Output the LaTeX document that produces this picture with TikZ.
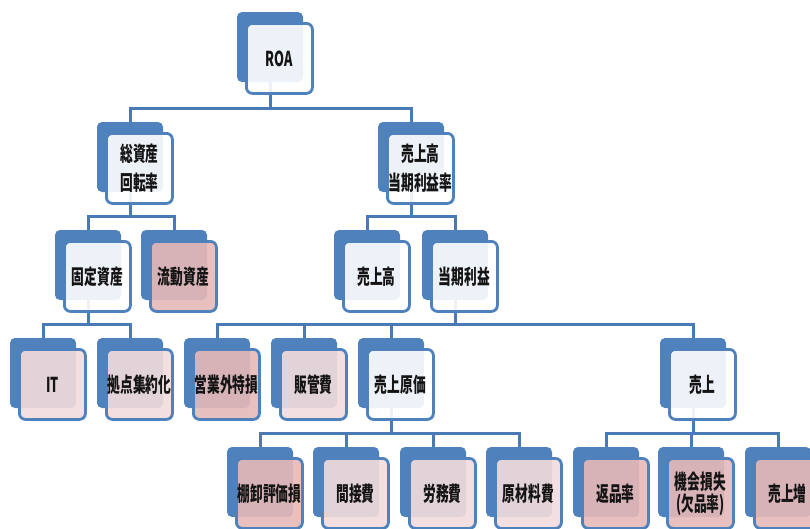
\documentclass[tikz,border=0pt]{standalone}
\usepackage{fontspec}
\newfontfamily\jp{Noto Sans CJK JP}[FakeStretch=0.62]
\pgfdeclarelayer{bg}
\pgfsetlayers{bg,main}
\definecolor{acc}{HTML}{4F81BD}
\definecolor{connc}{HTML}{4A7AB5}
\definecolor{wfill}{HTML}{FFFFFF}
\definecolor{lpink}{HTML}{F2DCDB}
\definecolor{dpink}{HTML}{E6B9B8}
\definecolor{txt}{HTML}{141414}
\tikzset{
  backbox/.style={anchor=north west, fill=acc, rounded corners=5pt,
    minimum width=66pt, minimum height=70pt, inner sep=0pt, outer sep=0pt},
  frontbox/.style={anchor=north west, draw=acc, line width=2.8pt,
    fill opacity=0.9, text opacity=1, draw opacity=1, rounded corners=6pt,
    minimum width=66pt, minimum height=70pt, inner sep=0pt, align=center,
    font=\jp\bfseries\fontsize{20.5}{22}\selectfont, text=txt},
  conn/.style={draw=connc, line width=3pt},
  twoline/.style={font=\jp\bfseries\fontsize{20.5}{29}\selectfont},
}
\newcommand\onebox[6][]{%
  \node[backbox] (#2b) at (#3,#4) {};
  \node[frontbox, fill=#5, #1] (#2) at ([xshift=8pt,yshift=-10pt]#2b.north west) {#6};
}
\newcommand\linkto[2]{\draw[conn] (#1b.center) |- ([yshift=14pt]#2b.north) -- (#2b.north);}
\begin{document}
\begin{tikzpicture}[x=1pt,y=-1pt]
\useasboundingbox (0,0) rectangle (810,528);
\clip (0,0) rectangle (810,528);
% level 0
\onebox{roa}{237}{12}{wfill}{ROA}
% level 1
\onebox[twoline]{sou}{97}{122}{wfill}{総資産\\回転率}
\onebox[twoline]{urr}{378}{122}{wfill}{売上高\\当期利益率}
% level 2
\onebox{kotei}{55}{230}{wfill}{固定資産}
\onebox{ryudo}{141}{230}{dpink}{流動資産}
\onebox{uriage}{334}{230}{wfill}{売上高}
\onebox{toki}{422}{230}{wfill}{当期利益}
% level 3
\onebox{it}{10}{338}{lpink}{IT}
\onebox{kyoten}{97}{338}{lpink}{拠点集約化}
\onebox{eigyo}{184}{338}{dpink}{営業外特損}
\onebox{hankan}{271}{338}{lpink}{販管費}
\onebox{genka}{358}{338}{wfill}{売上原価}
\onebox{uri}{660}{338}{wfill}{売上}
% level 4
\onebox{tana}{227}{447}{dpink}{棚卸評価損}
\onebox{kansetsu}{313}{447}{lpink}{間接費}
\onebox{romu}{400}{447}{lpink}{労務費}
\onebox{genzai}{486}{447}{lpink}{原材料費}
\onebox{henpin}{573}{447}{dpink}{返品率}
\onebox{kikai}{658}{447}{dpink}{機会損失\\(欠品率)}
\onebox{zou}{745}{447}{dpink}{売上増}
\begin{pgfonlayer}{bg}
\linkto{roa}{sou}
\linkto{roa}{urr}
\linkto{sou}{kotei}
\linkto{sou}{ryudo}
\linkto{urr}{uriage}
\linkto{urr}{toki}
\linkto{kotei}{it}
\linkto{kotei}{kyoten}
\linkto{toki}{eigyo}
\linkto{toki}{hankan}
\linkto{toki}{genka}
\linkto{toki}{uri}
\linkto{genka}{tana}
\linkto{genka}{kansetsu}
\linkto{genka}{romu}
\linkto{genka}{genzai}
\linkto{uri}{henpin}
\linkto{uri}{kikai}
\linkto{uri}{zou}
\end{pgfonlayer}
\end{tikzpicture}
\end{document}
